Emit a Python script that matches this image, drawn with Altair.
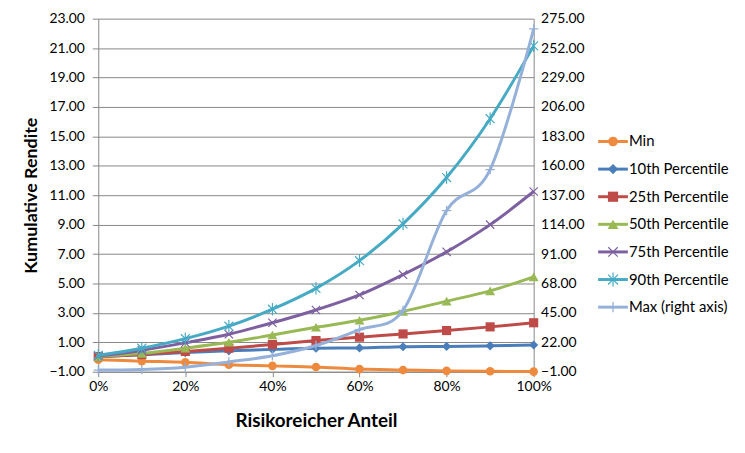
import altair as alt
import pandas as pd

# ---------------- data ----------------
x_vals = [0.0, 0.1, 0.2, 0.3, 0.4, 0.5, 0.6, 0.7, 0.8, 0.9, 1.0]
x_tick_values = [0.0, 0.2, 0.4, 0.6, 0.8, 1.0]

series_names = ["Min", "10th Percentile", "25th Percentile", "50th Percentile",
                "75th Percentile", "90th Percentile", "Max (right axis)"]

min_vals = [-0.18, -0.28, -0.36, -0.52, -0.60, -0.68, -0.82, -0.88, -0.94, -0.97, -0.99]
p10_vals = [0.02, 0.15, 0.30, 0.42, 0.52, 0.60, 0.62, 0.70, 0.72, 0.76, 0.82]
p25_vals = [0.03, 0.17, 0.38, 0.60, 0.85, 1.12, 1.35, 1.57, 1.80, 2.05, 2.33]
p50_vals = [0.03, 0.25, 0.60, 1.00, 1.50, 2.02, 2.50, 3.10, 3.80, 4.50, 5.45]
p75_vals = [0.08, 0.45, 0.97, 1.55, 2.33, 3.20, 4.22, 5.60, 7.15, 9.00, 11.25]
p90_vals = [0.12, 0.60, 1.25, 2.10, 3.25, 4.67, 6.55, 9.05, 12.20, 16.20, 21.15]
max_vals = [0.3, 0.8, 2.6, 6.7, 11.5, 19.5, 32.0, 47.0, 125.0, 157.0, 267.0]  # right axis

left_ticks = [-1, 1, 3, 5, 7, 9, 11, 13, 15, 17, 19, 21, 23]
right_ticks = [-1, 22, 45, 68, 91, 114, 137, 160, 183, 206, 229, 252, 275]

colors = ["#EE8A3E", "#4A7EBB", "#BE4B48", "#98B954", "#7D60A0", "#46AAC5", "#95B0D9"]

# marker style per series: (shape, size, filled, strokeWidth)
X_PATH = "M-1,-1L1,1M-1,1L1,-1"
STAR_PATH = "M-1,-1L1,1M-1,1L1,-1M0,-1.4L0,1.4"
PLUS_PATH = "M-1,0L1,0M0,-1L0,1"
markers = {
    "Min": ("circle", 75, True, 0),
    "10th Percentile": ("diamond", 85, True, 0),
    "25th Percentile": ("square", 85, True, 0),
    "50th Percentile": ("triangle-up", 100, True, 0),
    "75th Percentile": (X_PATH, 70, False, 1.2),
    "90th Percentile": (STAR_PATH, 80, False, 1.2),
    "Max (right axis)": (PLUS_PATH, 90, False, 1.3),
}

all_vals = [min_vals, p10_vals, p25_vals, p50_vals, p75_vals, p90_vals, max_vals]
rows = []
for name, vals in zip(series_names, all_vals):
    for xv, v in zip(x_vals, vals):
        rows.append({"x": xv, "value": v, "series": name})
df = pd.DataFrame(rows)
left_df = df[df.series != "Max (right axis)"]
right_df = df[df.series == "Max (right axis)"]

legend_df = pd.DataFrame({"series": series_names, "idx": list(range(len(series_names)))})

FONT = "Lato"
GRID = "#878787"

color_scale = alt.Scale(domain=series_names, range=colors)
color_enc = alt.Color("series:N", scale=color_scale, legend=None)

x_enc = alt.X("x:Q", scale=alt.Scale(domain=[0, 1], nice=False, zero=False),
              axis=alt.Axis(values=x_tick_values, format=".0%", title="Risikoreicher Anteil",
                            grid=False, tickSize=5, labelPadding=3, titlePadding=18,
                            labelFlush=False, titleFontSize=19, titleFontWeight="bold"))

y_left = alt.Y("value:Q", scale=alt.Scale(domain=[-1, 23], nice=False, zero=False),
               axis=alt.Axis(values=left_ticks, format=".2f", title="Kumulative Rendite",
                             grid=True, gridColor=GRID, tickSize=6, labelPadding=8,
                             titlePadding=8, titleFontSize=18, titleFontWeight="bold"))
y_right = alt.Y("value:Q", scale=alt.Scale(domain=[-1, 275], nice=False, zero=False),
                axis=alt.Axis(values=right_ticks, format=".2f", title=None, orient="right",
                              grid=False, tickSize=0, labelPadding=7))


def points_layer(data, name, y_enc):
    shape, size, filled, sw = markers[name]
    kw = dict(shape=shape, size=size, filled=filled, opacity=1)
    if not filled:
        kw["strokeWidth"] = sw
    return alt.Chart(data).transform_filter(
        alt.datum.series == name
    ).mark_point(**kw).encode(x=x_enc, y=y_enc, color=color_enc)


left_layers = []
for name in series_names[:-1]:
    sub = left_df[left_df.series == name]
    left_layers.append(
        alt.Chart(sub).mark_line(interpolate="cardinal", strokeWidth=3).encode(
            x=x_enc, y=y_left, color=color_enc)
    )
    left_layers.append(points_layer(sub, name, y_left))
left_chart = alt.layer(*left_layers)

right_chart = alt.layer(
    alt.Chart(right_df).mark_line(interpolate="cardinal", strokeWidth=3).encode(
        x=x_enc, y=y_right, color=color_enc),
    points_layer(right_df, "Max (right axis)", y_right),
)

main = alt.layer(left_chart, right_chart).resolve_scale(y="independent").properties(
    width=439, height=356)

# ---------------- manual legend ----------------
leg_y = alt.Y("idx:Q", scale=alt.Scale(domain=[-4.45, 8.34], reverse=True, nice=False, zero=False),
              axis=None)
leg_layers = [
    alt.Chart(legend_df).mark_rule(strokeWidth=3).encode(
        x=alt.value(0), x2=alt.value(30), y=leg_y, color=color_enc)
]
for name in series_names:
    shape, size, filled, sw = markers[name]
    kw = dict(shape=shape, size=size + 20, filled=filled, opacity=1)
    if not filled:
        kw["strokeWidth"] = sw
    leg_layers.append(
        alt.Chart(legend_df).transform_filter(alt.datum.series == name).mark_point(**kw).encode(
            x=alt.value(15), y=leg_y, color=color_enc)
    )
leg_layers.append(
    alt.Chart(legend_df).mark_text(align="left", baseline="middle", font=FONT, fontSize=15,
                                   color="#000000").encode(
        x=alt.value(31), y=leg_y, text="series:N")
)
legend = alt.layer(*leg_layers).properties(width=140, height=356)

chart = alt.hconcat(main, legend, spacing=12).properties(
    padding={"left": 15, "top": 2, "right": 0, "bottom": 0},
    background="white",
).configure_view(stroke=None).configure_axis(
    labelFont=FONT, labelFontSize=14, labelColor="#000000",
    titleFont=FONT, titleColor="#000000",
    domainColor=GRID, tickColor=GRID, domainWidth=1, gridWidth=1,
)

chart.save("out.html", embed_options={"renderer": "svg", "actions": False})
